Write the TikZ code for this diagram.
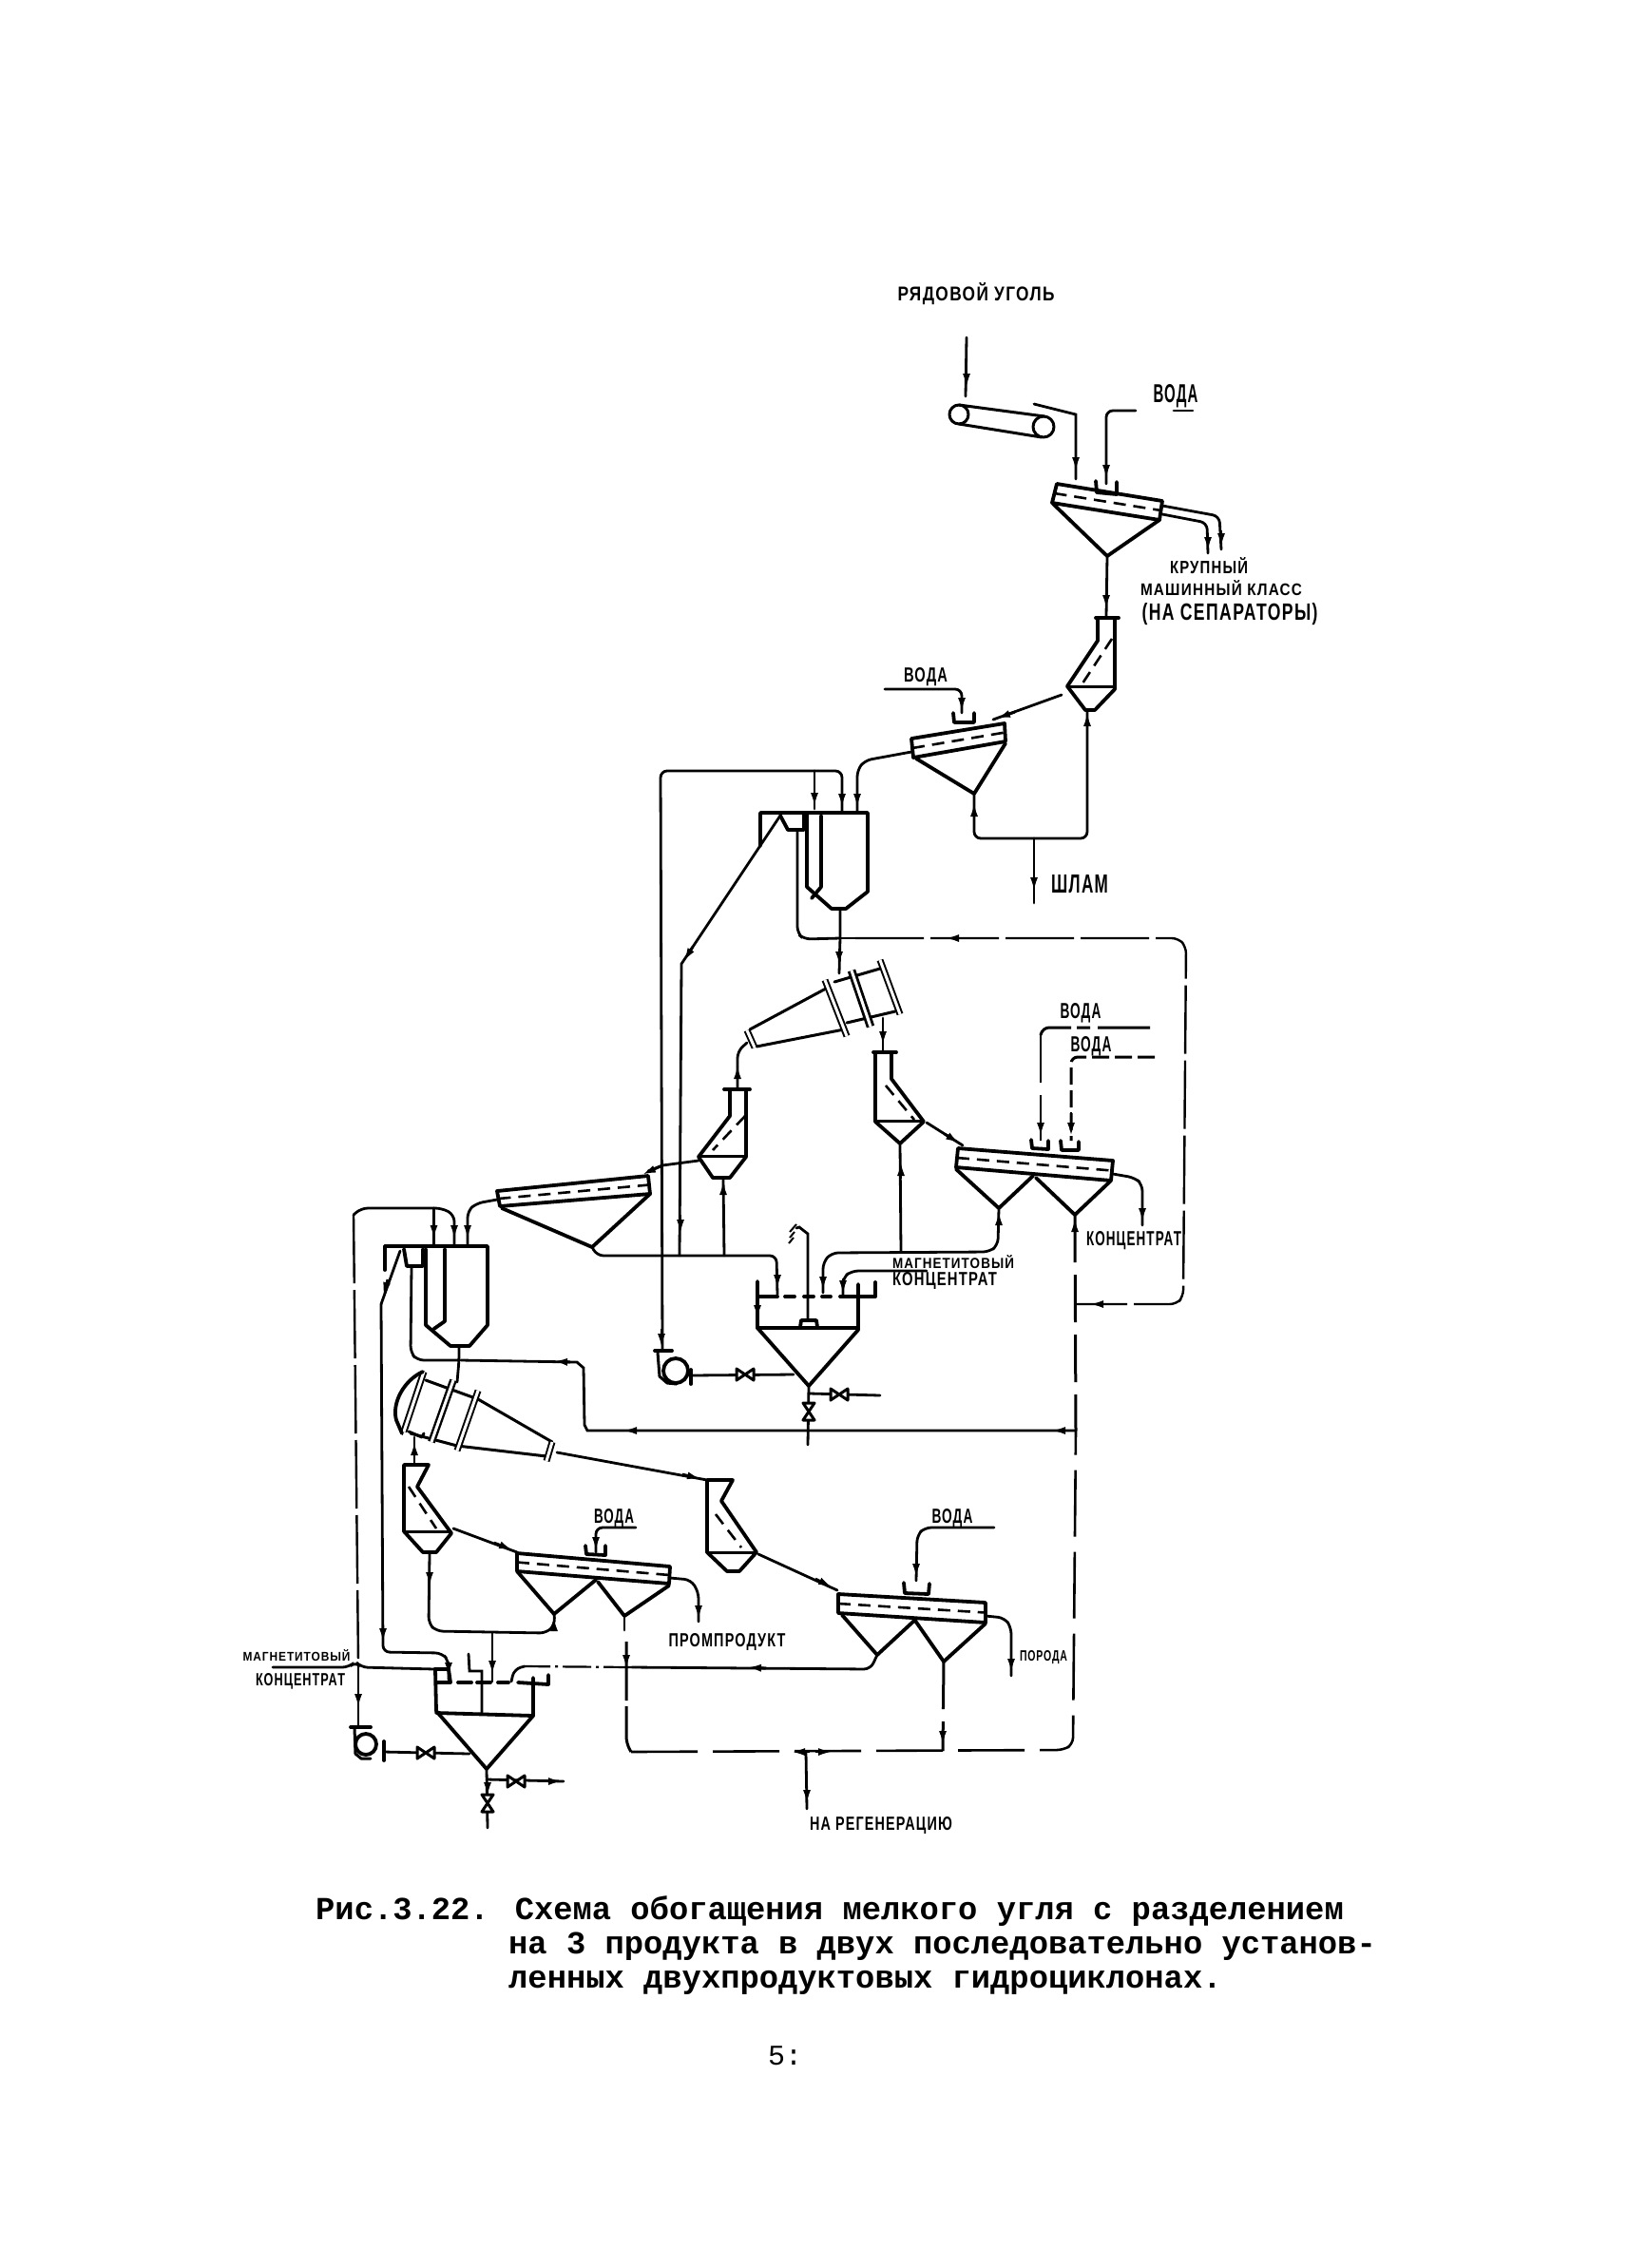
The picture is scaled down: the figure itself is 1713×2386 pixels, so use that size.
\documentclass[tikz,border=0pt]{standalone}
\usepackage{fontspec}
\usepackage{graphicx}
\setmainfont{Liberation Mono}
\newfontfamily\lblfont{Liberation Sans}[LetterSpace=8]
\usetikzlibrary{calc,arrows.meta}
\tikzset{
  eq/.style={line width=3.8pt,line join=round,line cap=round},
  eqt/.style={line width=3pt,line join=round,line cap=round},
  pipe/.style={line width=2.8pt,rounded corners=7pt,line cap=round},
  dpipe/.style={line width=3pt,rounded corners=7pt,dash pattern=on 50pt off 13pt},
  ldpipe/.style={line width=2.4pt,rounded corners=7pt,dash pattern=on 72pt off 7pt},
  mesh/.style={line width=2.6pt,dash pattern=on 13pt off 8pt},
  flow/.style={line width=2.8pt,-{Latex[length=15pt,width=8pt]}},
  flange/.style={line width=2pt,double,double distance=3pt},
  lbl/.style={inner sep=0pt,font=\lblfont\bfseries\fontsize{14}{14}\selectfont},
  captxt/.style={inner sep=0pt,anchor=base west,font=\bfseries\fontsize{33.8}{36}\selectfont}
}
\newcommand\screenbox[4]{\draw[eq] #1 -- #2 -- #3 -- #4 -- cycle; \draw[mesh] ($#1!.5!#4$) -- ($#2!.5!#3$);}
\newcommand\valveH[2]{\draw[eqt,fill=white] (#1-9,#2-6) -- (#1+9,#2+6) -- (#1+9,#2-6) -- (#1-9,#2+6) -- cycle;}
\newcommand\valveV[2]{\draw[eqt,fill=white] (#1-6,#2-9) -- (#1+6,#2+9) -- (#1-6,#2+9) -- (#1+6,#2-9) -- cycle;}
\newcommand\lab[6]{\node[lbl] (#1) at (#2,#3) {\resizebox{#4pt}{#5pt}{#6}};}
\begin{document}
\begin{tikzpicture}[x=1pt,y=-1pt]
\useasboundingbox[fill=white] (0,0) rectangle (1713,2386);

% ---------- named connection points ----------
\coordinate (feedA) at (1017,355);
\coordinate (feedB) at (1016,417);
\coordinate (sA) at (1165,585);      % screen 1 apex
\coordinate (clA) at (1164,649);     % classifier 1 top
\coordinate (clAb) at (1144,747);    % classifier 1 bottom
\coordinate (sB) at (1025,835);      % screen 2 apex
\coordinate (sumpA) at (884,956);    % sump 1 bottom
\coordinate (jA) at (884,987);
\coordinate (cyA) at (883,1024);
\coordinate (clB) at (776,1146);
\coordinate (clBb) at (761,1239);
\coordinate (clC) at (929,1106);
\coordinate (clCb) at (947,1203);
\coordinate (sCa) at (623,1312);
\coordinate (hD1) at (1051,1271);
\coordinate (hD2) at (1131,1278);
\coordinate (thA) at (851,1458);
\coordinate (pumpA) at (697,1421);
\coordinate (sumpB) at (483,1416);
\coordinate (jB) at (483,1431);
\coordinate (cyB) at (481,1454);
\coordinate (clD) at (436,1539);
\coordinate (clDb) at (452,1635);
\coordinate (hE1) at (583,1698);
\coordinate (hE2) at (657,1700);
\coordinate (hF1) at (923,1741);
\coordinate (hF2) at (993,1748);
\coordinate (thB) at (512,1861);
\coordinate (pumpB) at (377,1816);
\coordinate (regen) at (848,1843);

% ---------- feed and conveyor ----------
\draw[pipe] (feedA) -- (feedB);
\draw[flow] (1017,390) -- (1017,408);
\draw[eqt] (1009,436) circle (10);
\draw[eqt] (1098,449) circle (11);
\draw[eqt] (1009,426) -- (1099,438);
\draw[eqt] (1009,446) -- (1096,460);
\draw[pipe,rounded corners=0pt] (1088,425) -- (1132,436) -- (1132,504);
\draw[flow] (1132,478) -- (1132,496);
\draw[pipe] (1255,432) -- (1235,432);
\draw[pipe] (1195,432) -- (1164,432) -- (1164,509);
\draw[flow] (1164,486) -- (1164,504);
\draw[eq] (1153,506) -- (1154,518) -- (1175,520) -- (1175,507);

% ---------- screen 1 ----------
\screenbox{(1112,509)}{(1223,527)}{(1220,547)}{(1107,529)}
\draw[eq] (1108,530) -- (sA) -- (1220,547);
\draw[pipe] (1223,532) -- (1283,543) -- (1285,578);
\draw[pipe] (1223,541) -- (1270,550) -- (1271,582);
\draw[flow] (1285,558) -- (1285,576);
\draw[flow] (1271,562) -- (1271,580);
\draw[pipe] (sA) -- (clA);
\draw[flow] (1164,623) -- (1164,641);

% ---------- classifier 1 ----------
\draw[eq] (1153,650) -- (1177,650);
\draw[eq] (1155,651) -- (1155,674) -- (1123,722) -- (1142,747) -- (1152,747) -- (1173,725) -- (1173,651);
\draw[eqt] (1123,722) -- (1173,722);
\draw[mesh] (1170,672) -- (1137,722);
\draw[pipe] (1117,731) -- (1045,757);
\draw[flow] (1068,749) -- (1048,756);
\draw[pipe] (clAb) -- (1144,882) -- (1025,882) -- (sB);
\draw[flow] (1144,767) -- (1144,749);
\draw[flow] (1025,862) -- (1025,844);
\draw[pipe] (1088,882) -- (1088,950);
\draw[flow] (1088,920) -- (1088,938);

% ---------- screen 2 ----------
\screenbox{(959,777)}{(1057,761)}{(1058,780)}{(961,797)}
\draw[eq] (964,798) -- (sB) -- (1058,782);
\draw[pipe] (931,725) -- (1012,725) -- (1012,750);
\draw[flow] (1012,731) -- (1012,749);
\draw[eq] (1003,750) -- (1004,760) -- (1025,760) -- (1025,750);
\draw[pipe] (959,791) -- (910,800) -- (902,810) -- (902,855);
\draw[flow] (902,830) -- (902,850);
\draw[pipe] (715,1321) -- (697,1321);
\draw[pipe] (697,1421) -- (695,811) -- (886,811) -- (886,855);
\draw[pipe] (857,811) -- (857,851);
\draw[flow] (857,830) -- (857,849);
\draw[flow] (886,830) -- (886,850);
\draw[flow] (696,1398) -- (696,1418);

% ---------- sump 1 ----------
\draw[eq] (800,890) -- (800,855) -- (913,855) -- (913,938) -- (890,956) -- (875,956) -- (849,933) -- (849,855);
\draw[eq] (864,858) -- (864,933) -- (854,945);
\draw[eq] (821,858) -- (829,873) -- (846,873) -- (846,855);
\draw[pipe,rounded corners=0pt] (821,858) -- (717,1014) -- (715,1321);
\draw[flow] (729,996) -- (719,1012);
\draw[flow] (716,1278) -- (716,1298);
\draw[pipe] (839,874) -- (839,982) -- (846,988) -- (jA);
\draw[pipe] (sumpA) -- (jA) -- (cyA);
\draw[flow] (883,998) -- (883,1016);
\draw[pipe,rounded corners=0pt] (jA) -- (900,987);
\draw[ldpipe] (900,987) -- (1240,987) -- (1248,996) -- (1245,1364) -- (1238,1372) -- (1133,1372);
\draw[flow] (1012,987) -- (994,987);
\draw[flow] (1162,1372) -- (1146,1372);

% ---------- cyclone 1 ----------
\draw[eqt] (869,1040) -- (789,1083);
\draw[eqt] (888,1083) -- (796,1101);
\draw[eqt] (878,1033) -- (926,1019);
\draw[eqt] (891,1076) -- (942,1064);
\draw[flange] (868,1031) -- (891,1090);
\draw[flange,line width=2.8pt] (896,1021) -- (916,1080);
\draw[flange] (926,1010) -- (947,1067);
\draw[flange] (786,1084) -- (794,1102);
\draw[pipe] (786,1097) -- (776,1106) -- (clB);
\draw[flow] (776,1136) -- (776,1120);
\draw[pipe] (929,1071) -- (clC);
\draw[flow] (929,1082) -- (929,1100);

% ---------- classifier 2 ----------
\draw[eq] (762,1146) -- (789,1146);
\draw[eq] (768,1148) -- (768,1174) -- (735,1217) -- (750,1239) -- (768,1239) -- (785,1217) -- (785,1148);
\draw[eqt] (735,1216) -- (785,1216);
\draw[mesh] (784,1174) -- (750,1210);
\draw[pipe] (clBb) -- (762,1321);
\draw[flow] (761,1260) -- (761,1242);
\draw[pipe,rounded corners=0pt] (735,1221) -- (697,1226) -- (682,1232);
\draw[flow] (695,1227) -- (675,1236);

% ---------- screen 3 ----------
\screenbox{(523,1253)}{(682,1237)}{(684,1256)}{(526,1269)}
\draw[eq] (528,1271) -- (sCa) -- (684,1256);
\draw[pipe] (sCa) -- (628,1321) -- (817,1321) -- (818,1362);
\draw[flow] (818,1336) -- (818,1356);

% ---------- classifier 3 ----------
\draw[eq] (919,1107) -- (943,1107);
\draw[eq] (921,1108) -- (921,1180) -- (clCb) -- (972,1180) -- (938,1135) -- (938,1108);
\draw[eqt] (921,1179) -- (970,1179);
\draw[mesh] (932,1142) -- (962,1178);
\draw[pipe] (975,1181) -- (1013,1205);
\draw[flow] (994,1193) -- (1010,1203);
\draw[pipe] (clCb) -- (948,1317);
\draw[flow] (948,1240) -- (948,1222);

% ---------- screen 4 ----------
\screenbox{(1008,1208)}{(1171,1221)}{(1169,1242)}{(1006,1228)}
\draw[eq] (1006,1230) -- (hD1) -- (1087,1237);
\draw[eq] (1090,1239) -- (hD2) -- (1169,1242);
\draw[dpipe,dash pattern=on 55pt off 8pt on 14pt off 6pt] (1210,1081) -- (1097,1081) -- (1095,1089);
\draw[dpipe,line width=2.2pt] (1095,1089) -- (1095,1200);
\draw[flow] (1095,1170) -- (1095,1196);
\draw[eq] (1085,1199) -- (1086,1208) -- (1103,1209) -- (1103,1200);
\draw[dpipe,dash pattern=on 18pt off 6pt] (1215,1112) -- (1127,1112) -- (1127,1200);
\draw[flow] (1127,1170) -- (1127,1196);
\draw[eq] (1116,1200) -- (1117,1210) -- (1135,1210) -- (1135,1201);
\draw[pipe] (1171,1235) -- (1194,1239) -- (1202,1246) -- (1202,1289);
\draw[flow] (1202,1266) -- (1202,1286);
\draw[pipe] (hD1) -- (1050,1310) -- (1041,1317) -- (875,1318) -- (866,1328) -- (866,1360);
\draw[flow] (1051,1292) -- (1051,1274);
\draw[flow] (866,1338) -- (866,1358);
\draw[pipe] (975,1337) -- (896,1337) -- (887,1344) -- (887,1364);
\draw[flow] (887,1345) -- (887,1362);
\draw[dpipe] (hD2) -- (1132,1505);
\draw[flow] (1131,1300) -- (1131,1281);
\draw[pipe] (1133,1372) -- (1132,1372);
\draw[pipe,rounded corners=0pt] (1132,1505) -- (618,1505) -- (615,1499) -- (614,1439) -- (607,1433) -- (485,1431);
\draw[flow] (1124,1505) -- (1106,1505);
\draw[flow] (675,1505) -- (655,1505);
\draw[flow] (600,1433) -- (582,1432);

% ---------- thickener 1 ----------
\draw[eq] (797,1348) -- (797,1397) -- (thA) -- (903,1399) -- (903,1351);
\draw[eq] (797,1397) -- (903,1397);
\draw[eq] (842,1396) -- (843,1389) -- (859,1389) -- (860,1396);
\draw[eq] (797,1364) -- (818,1364);
\draw[eq] (826,1364) -- (836,1364);
\draw[eq] (846,1364) -- (856,1364);
\draw[eq] (865,1364) -- (874,1364);
\draw[eq] (884,1364) -- (921,1364) -- (921,1349);
\draw[flow] (797,1372) -- (797,1388);
\draw[pipe,rounded corners=0pt] (838,1292) -- (841,1291) -- (850,1298) -- (850,1389);
\draw[line width=2pt] (838,1288) -- (831,1296);
\draw[line width=2pt] (836,1296) -- (831,1302);
\draw[line width=2pt] (835,1302) -- (830,1308);
% pump A
\draw[eq] (689,1421) -- (707,1421);
\draw[eqt] (692,1423) -- (694,1448) -- (702,1455) -- (712,1456);
\draw[eq] (711,1442) circle (13);
\draw[eq] (727,1441) -- (727,1456);
\draw[pipe] (727,1447) -- (835,1446);
\valveH{784}{1446}
\draw[pipe] (thA) -- (850,1520);
\draw[pipe] (852,1466) -- (926,1468);
\valveH{883}{1467}
\valveV{851}{1485}

% ---------- sump 2 ----------
\draw[pipe] (372,1278) -- (380,1271) -- (465,1271) -- (478,1278) -- (478,1311);
\draw[ldpipe] (372,1278) -- (377,1749);
\draw[pipe] (456.5,1271) -- (456.5,1309);
\draw[flow] (456.5,1286) -- (456.5,1304);
\draw[flow] (478,1286) -- (478,1304);
\draw[pipe] (523,1262) -- (501,1266) -- (492,1274) -- (492,1309);
\draw[flow] (492,1286) -- (492,1304);
\draw[eq] (421,1311) -- (405,1311) -- (405,1336);
\draw[eq] (405,1311) -- (513,1311) -- (513,1394) -- (494,1416) -- (474,1416) -- (448,1394) -- (448,1314);
\draw[eq] (468,1314) -- (468,1390) -- (456.5,1398);
\draw[eq] (425,1314) -- (428,1332) -- (445,1332) -- (445,1314);
\draw[pipe,rounded corners=0pt] (421,1316) -- (401,1372);
\draw[pipe] (401,1372) -- (403,1738) -- (465,1739) -- (472,1747) -- (472,1767);
\draw[flow] (408,1346) -- (403,1364);
\draw[flow] (403,1708) -- (403,1728);
\draw[flow] (472,1748) -- (472,1764);
\draw[pipe] (433,1332) -- (432,1423) -- (439,1431) -- (jB);
\draw[pipe] (sumpB) -- (jB) -- (cyB);

% ---------- cyclone 2 ----------
\draw[eqt] (503,1472) -- (581,1517);
\draw[eqt] (481,1521) -- (575,1532);
\draw[eqt] (448,1452) -- (503,1472);
\draw[eqt] (432,1508) -- (481,1521);
\draw[flange] (446,1443) -- (425,1506);
\draw[flange,line width=2.4pt] (477,1452) -- (454,1517);
\draw[flange] (503,1463) -- (481,1526);
\draw[eq] (445,1443) .. controls (425,1452) and (412,1476) .. (417,1494) -- (423,1508);
\draw[flange] (581,1517) -- (575,1537);
\draw[eqt] (430,1506) -- (444,1512) -- (446,1508);
\draw[pipe] (436,1512) -- (clD);
\draw[flow] (436,1532) -- (436,1516);
\draw[pipe,rounded corners=0pt] (586,1528) -- (744,1557);
\draw[flow] (718,1551) -- (738,1556);

% ---------- classifier 4 ----------
\draw[eq] (425,1541) -- (451,1541) -- (439,1564) -- (475,1613) -- (459,1633) -- (445,1633) -- (425,1611) -- cycle;
\draw[eqt] (425,1611) -- (474,1611);
\draw[mesh] (430,1564) -- (459,1608);
\draw[pipe] (clDb) -- (451,1708) -- (459,1716) -- (575,1718) -- (584,1709) -- (hE1);
\draw[flow] (452,1651) -- (452,1669);
\draw[flow] (583,1716) -- (583,1701);
\draw[pipe] (518,1718) -- (518,1769);
\draw[flow] (518,1744) -- (518,1762);
\draw[pipe,rounded corners=0pt] (477,1608) -- (544,1633);
\draw[flow] (520,1623) -- (540,1631);

% ---------- screen 5 ----------
\screenbox{(544,1634)}{(705,1648)}{(704,1666)}{(544,1653)}
\draw[eq] (544,1653) -- (hE1) -- (627,1662);
\draw[eq] (629,1664) -- (hE2) -- (704,1668);
\draw[pipe] (669,1607) -- (627,1607) -- (627,1633);
\draw[flow] (627,1612) -- (627,1632);
\draw[eq] (616,1626) -- (617,1635) -- (637,1636) -- (637,1626);
\draw[pipe] (705,1660) -- (727,1662) -- (735,1675) -- (735,1706);
\draw[flow] (735,1684) -- (735,1704);
\draw[pipe] (hE2) -- (657,1715);
\draw[dpipe,dash pattern=on 62pt off 6pt] (659,1727) -- (659,1834) -- (664,1843);
\draw[flow] (659,1738) -- (659,1756);

% ---------- classifier 5 ----------
\draw[eq] (744,1557) -- (771,1557) -- (759,1579) -- (796,1633) -- (778,1653) -- (765,1653) -- (744,1633) -- cycle;
\draw[eqt] (744,1633) -- (796,1633);
\draw[mesh] (753,1593) -- (780,1628);
\draw[pipe,rounded corners=0pt] (798,1635) -- (881,1673);
\draw[flow] (858,1661) -- (876,1670);

% ---------- screen 6 ----------
\screenbox{(882,1677)}{(1037,1686)}{(1037,1707)}{(882,1697)}
\draw[eq] (886,1699) -- (hF1) -- (963,1704);
\draw[eq] (963,1705) -- (hF2) -- (1037,1708);
\draw[pipe] (1046,1607) -- (973,1607) -- (965,1615) -- (964,1663);
\draw[flow] (964,1642) -- (964,1660);
\draw[eq] (951,1665) -- (952,1676) -- (977,1677) -- (978,1666);
\draw[pipe] (1037,1700) -- (1057,1702) -- (1064,1712) -- (1064,1763);
\draw[flow] (1064,1738) -- (1064,1760);
\draw[pipe] (hF1) -- (916,1756) -- (665,1754);
\draw[flow] (806,1755) -- (786,1754);
\draw[line width=2.2pt,dash pattern=on 30pt off 5pt on 3pt off 5pt] (665,1754) -- (552,1753);
\draw[pipe] (552,1753) -- (541,1756) -- (538,1769);
\draw[dpipe] (hF2) -- (992,1842);
\draw[flow] (992,1816) -- (992,1836);
\draw[dpipe,line width=2.6pt,dash pattern=on 70pt off 16pt] (664,1843) -- (1119,1841) -- (1129,1835) -- (1132,1505);
\draw[flow] (852,1843) -- (832,1843);
\draw[flow] (858,1843) -- (876,1843);
\draw[pipe] (regen) -- (849,1903);
\draw[flow] (849,1880) -- (849,1898);

% ---------- thickener 2 ----------
\draw[eq] (458,1756) -- (459,1800) -- (thB) -- (561,1805) -- (561,1765);
\draw[eq] (459,1802) -- (561,1805);
\draw[eq] (457,1756) -- (472,1756) -- (474,1770) -- (459,1770);
\draw[eq] (482,1770) -- (496,1770);
\draw[eq] (502,1770) -- (516,1770);
\draw[eq] (524,1770) -- (535,1770);
\draw[eq] (545,1770) -- (577,1772) -- (577,1762);
\draw[pipe,rounded corners=0pt] (493,1740) -- (494,1758) -- (507,1758) -- (507,1803);
\draw[pipe] (287,1754) -- (367,1754) -- (374,1748) -- (380,1754) -- (458,1756);
\draw[pipe] (377,1753) -- (pumpB);
\draw[flow] (377,1778) -- (377,1797);
% pump B
\draw[eq] (369,1817) -- (390,1817);
\draw[eqt] (373,1818) -- (374,1845) -- (380,1850) -- (390,1850);
\draw[eq] (385,1835) circle (11);
\draw[eq] (404,1832) -- (404,1852);
\draw[pipe] (404,1843) -- (494,1845);
\valveH{448}{1844}
\draw[pipe] (thB) -- (513,1923);
\draw[pipe] (512,1872) -- (593,1874);
\valveH{543}{1874}
\draw[flow] (572,1874) -- (592,1874);
\draw[flow] (513,1875) -- (513,1890);
\valveV{513}{1897}

% ---------- diagram labels ----------
\lab{t1}{1027}{309}{165}{19}{РЯДОВОЙ УГОЛЬ}
\lab{t2}{1237}{417}{47}{19}{ВОДА}
\lab{t3}{1272}{595}{82}{17}{КРУПНЫЙ}
\lab{t4}{1285}{619}{170}{16}{МАШИННЫЙ КЛАСС}
\lab{t5}{1294}{646}{185}{18}{(НА СЕПАРАТОРЫ)}
\lab{t6}{974}{712}{46}{15}{ВОДА}
\lab{t7}{1136}{930}{60}{19}{ШЛАМ}
\lab{t8}{1137}{1066}{43}{16}{ВОДА}
\lab{t9}{1148}{1101}{43}{16}{ВОДА}
\lab{t10}{1003}{1328}{128}{14}{МАГНЕТИТОВЫЙ}
\lab{t11}{994}{1347}{110}{14}{КОНЦЕНТРАТ}
\lab{t12}{1193}{1305}{100}{15}{КОНЦЕНТРАТ}
\lab{t13}{646}{1597}{42}{15}{ВОДА}
\lab{t14}{1002}{1597}{43}{15}{ВОДА}
\lab{t15}{765}{1727}{123}{14}{ПРОМПРОДУКТ}
\lab{t16}{1098}{1744}{50}{11}{ПОРОДА}
\lab{t17}{312}{1742}{113}{12}{МАГНЕТИТОВЫЙ}
\lab{t18}{316}{1769}{94}{13}{КОНЦЕНТРАТ}
\lab{t19}{927}{1920}{150}{14}{НА РЕГЕНЕРАЦИЮ}

% ---------- caption ----------
\node[captxt] (c1) at (332,2019) {Рис.3.22. Схема обогащения мелкого угля с разделением};
\node[captxt] (c2) at (535,2055) {на 3 продукта в двух последовательно установ-};
\node[captxt] (c3) at (535,2091) {ленных двухпродуктовых гидроциклонах.};
\node[captxt,font=\mdseries\fontsize{30}{32}\selectfont] (pg) at (808,2172) {5:};
\end{tikzpicture}
\end{document}
